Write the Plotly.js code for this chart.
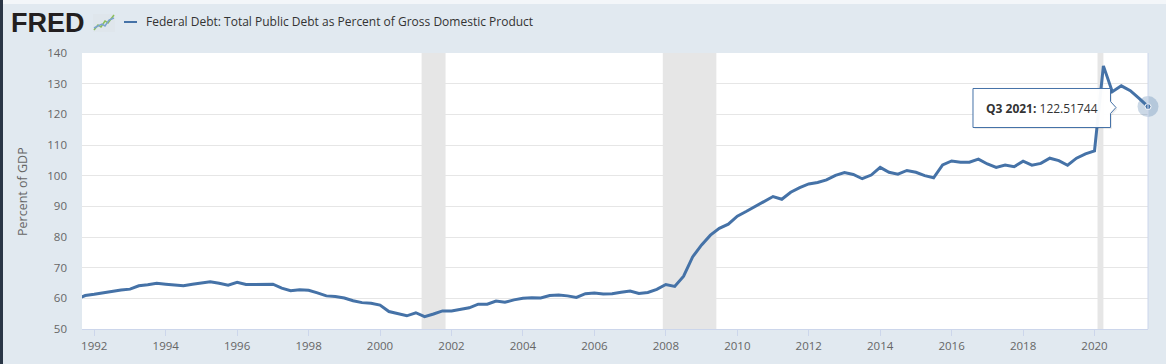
<!DOCTYPE html>
<html>
<head>
<meta charset="utf-8">
<script src="https://cdn.plot.ly/plotly-3.0.1.min.js"></script>
<style>
  html, body { margin: 0; padding: 0; background: #e1e9f0; }
  #wrap { position: relative; width: 1166px; height: 364px; overflow: hidden; }
  #chart { position: absolute; left: 0; top: 0; width: 1166px; height: 364px; }
  #edge { position: absolute; left: 0; top: 0; width: 3px; height: 364px; background: #2a3646; }
  #topstrip { position: absolute; left: 0; top: 0; width: 1166px; height: 4px; background: #f3f6f9; }
</style>
</head>
<body>
<div id="wrap">
  <div id="chart"></div>
  <div id="topstrip"></div>
  <div id="edge"></div>
</div>
<script>
// ---- data ----
const seriesName = "Federal Debt: Total Public Debt as Percent of Gross Domestic Product";
const yAxisTitle = "Percent of GDP";
const firstYear = 1991;
const firstQuarter = 3;
// quarterly values, 1991 Q3 .. 2021 Q3
const debtPctGDP = [
  59.7, 60.9,
  61.3, 61.8, 62.2, 62.7,
  63.0, 64.1, 64.4, 64.9,
  64.6, 64.3, 64.1, 64.6,
  64.9, 65.4, 64.9, 64.3,
  65.2, 64.5, 64.5, 64.6,
  64.6, 63.3, 62.5, 62.8,
  62.6, 61.8, 60.8, 60.6,
  60.1, 59.2, 58.6, 58.4,
  57.8, 55.7, 55.1, 54.3,
  55.3, 54.0, 54.9, 55.9,
  55.9, 56.4, 56.9, 58.1,
  58.1, 59.1, 58.7, 59.5,
  60.0, 60.2, 60.1, 60.9,
  61.1, 60.8, 60.3, 61.5,
  61.7, 61.4, 61.5, 62.0,
  62.4, 61.6, 61.9, 62.9,
  64.5, 63.9, 67.2, 73.5,
  77.4, 80.6, 82.8, 84.2,
  86.8, 88.3, 89.9, 91.7,
  93.2, 92.3, 94.6, 96.1,
  97.3, 97.8, 98.6, 100.1,
  101.0, 100.4, 99.0, 100.2,
  102.7, 101.1, 100.5, 101.7,
  101.1, 100.0, 99.3, 103.5,
  104.8, 104.4, 104.4, 105.4,
  103.8, 102.7, 103.5, 102.9,
  104.7, 103.4, 104.0, 105.7,
  104.9, 103.4, 105.7, 107.1,
  108.1, 135.8, 127.4, 129.3,
  127.7, 125.2, 122.51744
];
const recessionStarts = ["2001-03-01", "2007-12-01", "2020-02-01"];
const recessionEnds   = ["2001-11-01", "2009-06-01", "2020-04-01"];
const tooltipLabel = "Q3 2021";
const tooltipValue = "122.51744";
const yTickVals = [50, 60, 70, 80, 90, 100, 110, 120, 130, 140];

// quarter start dates
const dates = debtPctGDP.map((v, i) => {
  const q = firstQuarter - 1 + i;
  const y = firstYear + Math.floor(q / 4);
  const m = (q % 4) * 3 + 1;
  return y + "-" + String(m).padStart(2, "0") + "-01";
});

// ---- geometry (page pixels) ----
const W = 1166, H = 364;
const M = { l: 82, r: 18, t: 53, b: 35 };
const PW = W - M.l - M.r, PH = H - M.t - M.b;
const px = x => (x - M.l) / PW;
const py = y => 1 - (y - M.t) / PH;

const blue = "#4572a7";
const font = "'Open Sans', 'Noto Sans', sans-serif";

const traces = [
  {
    x: dates, y: debtPctGDP, type: "scatter", mode: "lines",
    line: { color: blue, width: 3 }, hoverinfo: "skip"
  },
  {
    x: [dates[dates.length - 1]], y: [debtPctGDP[debtPctGDP.length - 1]],
    type: "scatter", mode: "markers", cliponaxis: false,
    marker: { size: 21, color: "rgba(69,114,167,0.28)" }, hoverinfo: "skip"
  },
  {
    x: [dates[dates.length - 1]], y: [debtPctGDP[debtPctGDP.length - 1]],
    type: "scatter", mode: "markers", cliponaxis: false,
    marker: { size: 6, color: blue, line: { color: "#ffffff", width: 1 } }, hoverinfo: "skip"
  }
];

const shapes = [];
for (let i = 0; i < recessionStarts.length; i++) {
  shapes.push({
    type: "rect", xref: "x", yref: "paper", x0: recessionStarts[i], x1: recessionEnds[i],
    y0: 0, y1: 1, fillcolor: "#e6e6e6", line: { width: 0 }, layer: "below"
  });
}
// right plot border
shapes.push({ type: "line", xref: "paper", yref: "paper", x0: 1, x1: 1, y0: 0, y1: 1,
  line: { color: "#ccd6eb", width: 1 } });

// tooltip callout
function calloutPath(dx, dy) {
  const pts = [[973,88.5],[1110.5,88.5],[1110.5,101.5],[1116,107.5],[1110.5,113.5],[1110.5,127.5],[973,127.5]];
  return "M " + pts.map(p => px(p[0] + dx).toFixed(5) + "," + py(p[1] + dy).toFixed(5)).join(" L ") + " Z";
}
shapes.push({ type: "path", xref: "paper", yref: "paper", path: calloutPath(1.5, 1.5),
  fillcolor: "rgba(0,0,0,0.08)", line: { width: 0 } });
shapes.push({ type: "path", xref: "paper", yref: "paper", path: calloutPath(0, 0),
  fillcolor: "rgba(255,255,255,0.96)", line: { color: blue, width: 1 } });

// legend dash
shapes.push({ type: "line", xref: "paper", yref: "paper", x0: px(124), x1: px(137), y0: py(22), y1: py(22),
  line: { color: blue, width: 2 } });

// FRED icon
shapes.push({ type: "rect", xref: "paper", yref: "paper", x0: px(93), x1: px(115), y0: py(32), y1: py(14),
  fillcolor: "#dfe6ec", line: { width: 0 } });
const iconLine = (pts, color) => ({
  type: "path", xref: "paper", yref: "paper",
  path: "M " + pts.map(p => px(p[0]).toFixed(5) + "," + py(p[1]).toFixed(5)).join(" L "),
  line: { color: color, width: 1.5 }
});
shapes.push(iconLine([[94,30],[98,25],[101,27],[105,21],[108,23],[114,15]], "#8cbf5a"));
shapes.push(iconLine([[94,28],[98,26],[102,24],[105,26],[109,20],[114,18]], "#7aa3cf"));

const annotations = [
  { xref: "paper", yref: "paper", x: px(9), y: py(23), xanchor: "left", yanchor: "middle",
    text: "<b>FRED</b>", showarrow: false,
    font: { family: "'Liberation Sans', Arial, sans-serif", size: 27, color: "#231f20" } },
  { xref: "paper", yref: "paper", x: px(144), y: py(22), xanchor: "left", yanchor: "middle",
    text: seriesName, showarrow: false,
    font: { family: font, size: 12, color: "#333333" } },
  { xref: "paper", yref: "paper", x: px(22), y: py(192), xanchor: "center", yanchor: "middle",
    text: yAxisTitle, textangle: -90, showarrow: false,
    font: { family: font, size: 12.5, color: "#666666" } },
  { xref: "paper", yref: "paper", x: px(1041.5), y: py(108), xanchor: "center", yanchor: "middle",
    text: "<b>" + tooltipLabel + ":</b> " + tooltipValue, showarrow: false,
    font: { family: font, size: 12, color: "#333333" } }
];

const layout = {
  width: W, height: H,
  margin: M,
  paper_bgcolor: "#e1e9f0",
  plot_bgcolor: "#ffffff",
  showlegend: false,
  hovermode: false,
  xaxis: {
    type: "date",
    range: ["1991-08-29", dates[dates.length - 1]],
    tick0: "1992-01-01", dtick: "M24", tickformat: "%Y",
    showgrid: false, zeroline: false,
    showline: true, linecolor: "#ccd6eb", linewidth: 1,
    ticks: "outside", ticklen: 6, tickcolor: "#ccd6eb", tickwidth: 1,
    tickfont: { family: font, size: 11.5, color: "#666666" }
  },
  yaxis: {
    range: [50, 140],
    tickvals: yTickVals,
    showgrid: true, gridcolor: "#e6e6e6", gridwidth: 1,
    zeroline: false, showline: false, ticks: "",
    ticklabelstandoff: 14,
    tickfont: { family: font, size: 11.5, color: "#666666" }
  },
  shapes: shapes,
  annotations: annotations
};

Plotly.newPlot("chart", traces, layout, { displayModeBar: false, staticPlot: true });
</script>
</body>
</html>
